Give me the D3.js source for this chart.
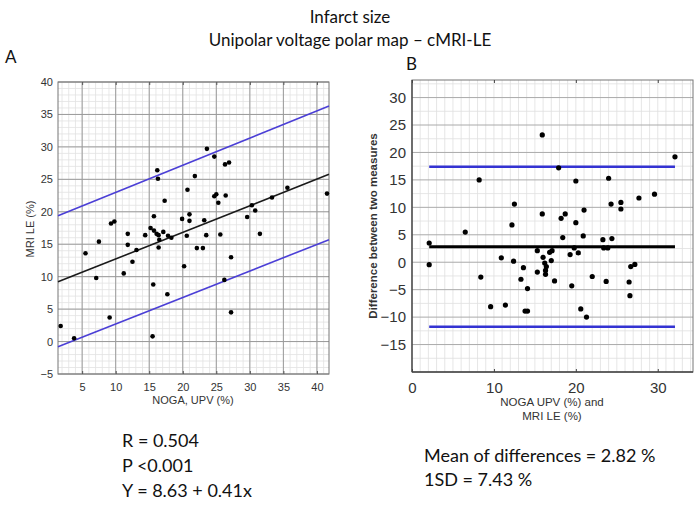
<!doctype html>
<html lang="en-US">
<head>
<meta charset="UTF-8">
<title>Infarct size</title>
<script src="https://cdn.jsdelivr.net/npm/d3@7"></script>
<style>
  body { margin: 0; background: #fff; }
  svg text { font-family: "Liberation Sans", Arial, sans-serif; }
  .cal { font-family: Lato, "Open Sans", sans-serif !important; fill: #111; }
</style>
</head>
<body>
<div id="viz"></div>

<script>
// Panel A: NOGA UPV (%) vs MRI LE (%)
var aNoga = [1.8, 3.8, 15.5, 9.1, 27.2, 17.7, 15.6, 26.2, 7.1, 11.2, 20.2, 12.5, 27.2, 5.5, 13.1,
  22.1, 23.0, 16.4, 11.8, 7.5, 16.5, 18.3, 17.8, 20.6, 14.4, 16.4, 23.5, 25.6, 11.8, 16.1,
  31.5, 17.1, 15.7, 15.2, 9.3, 9.8, 21.0, 23.2, 19.9, 29.6, 15.7, 21.0, 30.8, 30.3, 25.3,
  17.3, 33.3, 24.7, 26.4, 25.0, 41.5, 20.7, 35.6, 16.3, 21.8, 16.2, 26.3, 26.9, 24.7, 23.6];
var aMri = [2.4, 0.5, 0.8, 3.7, 4.5, 7.3, 8.8, 9.5, 9.8, 10.5, 11.6, 12.3, 13.0, 13.6, 14.1,
  14.4, 14.4, 14.5, 14.9, 15.4, 15.7, 16.0, 16.3, 16.3, 16.4, 16.4, 16.4, 16.5, 16.6, 16.6,
  16.6, 16.9, 17.1, 17.5, 18.2, 18.5, 18.6, 18.7, 18.9, 19.2, 19.3, 19.6, 20.2, 21.0, 21.4,
  21.7, 22.2, 22.4, 22.5, 22.7, 22.8, 23.4, 23.7, 25.1, 25.5, 26.4, 27.3, 27.6, 28.5, 29.7];
var regIntercept = 8.63, regSlope = 0.41;
var upperBand = [[1.4, 19.4], [41.8, 36.3]];
var lowerBand = [[1.4, -0.8], [41.8, 15.7]];
var aXTicks = [5, 10, 15, 20, 25, 30, 35, 40];
var aYTicks = [-5, 0, 5, 10, 15, 20, 25, 30, 35, 40];

// Panel B: Bland-Altman
var bMean = [2.1, 2.1, 6.5, 8.2, 8.4, 9.6, 10.9, 11.4, 12.2, 12.4, 12.5, 13.3, 13.6, 13.8, 14.1,
  14.1, 15.3, 15.3, 15.9, 15.9, 16.0, 16.2, 16.4, 16.3, 16.3, 16.8, 17.0, 17.1, 17.4, 17.9,
  18.2, 18.4, 18.7, 19.3, 19.5, 19.8, 20.0, 20.0, 20.3, 20.6, 20.9, 21.0, 21.3, 22.0, 23.3,
  23.4, 23.7, 23.9, 24.0, 24.3, 24.4, 25.5, 25.5, 26.5, 26.6, 26.7, 27.2, 27.7, 29.6, 32.1];
var bDiff = [3.5, -0.45, 5.5, 15.0, -2.7, -8.1, 0.8, -7.8, 6.8, 0.2, 10.6, -3.1, -1.0, -8.9, -8.9,
  -4.8, 2.1, -1.8, 23.2, 8.8, 0.9, -0.15, -0.8, -1.5, -2.2, 1.8, 0.3, 2.1, -3.4, 17.2,
  8.0, 4.5, 8.8, 1.4, -4.3, 2.6, 14.8, 7.2, 1.7, -8.5, 4.8, 9.5, -10.0, -2.6, 4.1,
  2.6, -3.5, 2.6, 15.3, 10.6, 4.3, 10.9, 9.7, -3.6, -6.1, -0.8, -0.4, 11.7, 12.4, 19.2];
var meanDiff = 2.82, sdDiff = 7.43;
var bXTicks = [0, 10, 20, 30];
var bYTicks = [-15, -10, -5, 0, 5, 10, 15, 20, 25, 30];

var svg = d3.select('#viz').append('svg').attr('width', 699).attr('height', 505);

// titles
svg.append('text').attr('class', 'cal').attr('x', 350).attr('y', 23).attr('text-anchor', 'middle')
  .style('font-size', '17px').text('Infarct size');
svg.append('text').attr('class', 'cal').attr('x', 350).attr('y', 46).attr('text-anchor', 'middle')
  .style('font-size', '17px').text('Unipolar voltage polar map \u2013 cMRI-LE');
svg.append('text').attr('class', 'cal').attr('x', 5).attr('y', 63).style('font-size', '17px').text('A');
svg.append('text').attr('class', 'cal').attr('x', 406).attr('y', 70).style('font-size', '17px').text('B');

// ---------- panel A ----------
var xA = d3.scaleLinear().domain([1.4, 41.8]).range([58, 329]);
var yA = d3.scaleLinear().domain([-5, 40]).range([374, 82]);
var gA = svg.append('g');

var minorX = d3.range(2, 42, 1), minorY = d3.range(-5, 41, 1);
gA.selectAll('.mnx').data(minorX).enter().append('line')
  .attr('x1', d => xA(d)).attr('x2', d => xA(d)).attr('y1', 82).attr('y2', 374)
  .attr('stroke', '#e2e2e2').attr('stroke-width', 0.8);
gA.selectAll('.mny').data(minorY).enter().append('line')
  .attr('y1', d => yA(d)).attr('y2', d => yA(d)).attr('x1', 58).attr('x2', 329)
  .attr('stroke', '#e2e2e2').attr('stroke-width', 0.8);
gA.selectAll('.mjx').data(aXTicks).enter().append('line')
  .attr('x1', d => xA(d)).attr('x2', d => xA(d)).attr('y1', 82).attr('y2', 374)
  .attr('stroke', '#9a9a9a').attr('stroke-width', 1);
gA.selectAll('.mjy').data(aYTicks).enter().append('line')
  .attr('y1', d => yA(d)).attr('y2', d => yA(d)).attr('x1', 58).attr('x2', 329)
  .attr('stroke', '#9a9a9a').attr('stroke-width', 1);
gA.append('rect').attr('x', 58).attr('y', 82).attr('width', 271).attr('height', 292)
  .attr('fill', 'none').attr('stroke', '#777').attr('stroke-width', 1);

gA.append('g').attr('transform', 'translate(0,374)')
  .call(d3.axisBottom(xA).tickValues(aXTicks).tickSize(3).tickPadding(6))
  .call(g => g.select('.domain').remove())
  .call(g => g.selectAll('line').attr('stroke', '#555').attr('transform', 'translate(0,-3)'))
  .call(g => g.selectAll('text').attr('fill', '#333').style('font-size', '11px'));
gA.append('g').attr('transform', 'translate(58,0)')
  .call(d3.axisLeft(yA).tickValues(aYTicks).tickSize(0).tickPadding(5))
  .call(g => g.select('.domain').remove())
  .call(g => g.selectAll('text').attr('fill', '#333').style('font-size', '11px'));
gA.append('g').attr('transform', 'translate(0,82)')
  .call(d3.axisBottom(xA).tickValues(aXTicks).tickSize(3).tickFormat(''))
  .call(g => g.select('.domain').remove())
  .call(g => g.selectAll('line').attr('stroke', '#555'));

gA.append('text').attr('x', 193).attr('y', 404).attr('text-anchor', 'middle')
  .attr('fill', '#333').style('font-size', '11px').text('NOGA, UPV (%)');
gA.append('text').attr('transform', 'translate(34,229) rotate(-90)').attr('text-anchor', 'middle')
  .attr('fill', '#333').style('font-size', '11px').text('MRI LE (%)');

var lineA = d3.line().x(d => xA(d[0])).y(d => yA(d[1]));
var dom = xA.domain();
gA.append('path').datum(dom.map(x => [x, regIntercept + regSlope * x])).attr('d', lineA)
  .attr('stroke', '#1a1a1a').attr('stroke-width', 1.6).attr('fill', 'none');
[upperBand, lowerBand].forEach(function (b) {
  gA.append('path').datum(b).attr('d', lineA)
    .attr('stroke', '#4b3fd6').attr('stroke-width', 1.6).attr('fill', 'none');
});
gA.selectAll('circle').data(aNoga).enter().append('circle')
  .attr('cx', d => xA(d)).attr('cy', (d, i) => yA(aMri[i])).attr('r', 2.3).attr('fill', '#000');

// ---------- panel B ----------
var xB = d3.scaleLinear().domain([0, 34.3]).range([412, 693]);
var yB = d3.scaleLinear().domain([-20, 33.2]).range([372, 80]);
var gB = svg.append('g');

gB.selectAll('.mnx').data(d3.range(1, 35, 1)).enter().append('line')
  .attr('x1', d => xB(d)).attr('x2', d => xB(d)).attr('y1', 80).attr('y2', 372)
  .attr('stroke', '#e0e0e0').attr('stroke-width', 0.8);
gB.selectAll('.mny').data(d3.range(-17.5, 33, 5)).enter().append('line')
  .attr('y1', d => yB(d)).attr('y2', d => yB(d)).attr('x1', 412).attr('x2', 693)
  .attr('stroke', '#e0e0e0').attr('stroke-width', 0.8);
gB.selectAll('.mjy').data(bYTicks).enter().append('line')
  .attr('y1', d => yB(d)).attr('y2', d => yB(d)).attr('x1', 412).attr('x2', 693)
  .attr('stroke', '#aaa').attr('stroke-width', 1);
gB.append('rect').attr('x', 412).attr('y', 80).attr('width', 281).attr('height', 292)
  .attr('fill', 'none').attr('stroke', '#777').attr('stroke-width', 1);
gB.append('line').attr('x1', 412).attr('x2', 412).attr('y1', 80).attr('y2', 372)
  .attr('stroke', '#444').attr('stroke-width', 1.3);
gB.append('line').attr('x1', 412).attr('x2', 693).attr('y1', 372).attr('y2', 372)
  .attr('stroke', '#444').attr('stroke-width', 1.3);

gB.append('g').attr('transform', 'translate(0,372)')
  .call(d3.axisBottom(xB).tickValues(bXTicks).tickSize(3).tickPadding(7))
  .call(g => g.select('.domain').remove())
  .call(g => g.selectAll('line').attr('stroke', '#444').attr('transform', 'translate(0,-3)'))
  .call(g => g.selectAll('text').attr('fill', '#333').style('font-size', '15px'));
gB.append('g').attr('transform', 'translate(0,80)')
  .call(d3.axisBottom(xB).tickValues(bXTicks).tickSize(3).tickFormat(''))
  .call(g => g.select('.domain').remove())
  .call(g => g.selectAll('line').attr('stroke', '#444'));
gB.append('g').attr('transform', 'translate(412,0)')
  .call(d3.axisLeft(yB).tickValues(bYTicks).tickSize(0).tickPadding(6))
  .call(g => g.select('.domain').remove())
  .call(g => g.selectAll('text').attr('fill', '#333').style('font-size', '15px'));

gB.append('text').attr('x', 552).attr('y', 406).attr('text-anchor', 'middle')
  .attr('fill', '#333').style('font-size', '11.5px').text('NOGA UPV (%) and');
gB.append('text').attr('x', 552).attr('y', 420).attr('text-anchor', 'middle')
  .attr('fill', '#333').style('font-size', '11.5px').text('MRI LE (%)');
gB.append('text').attr('transform', 'translate(377,226) rotate(-90)').attr('text-anchor', 'middle')
  .attr('fill', '#333').style('font-size', '11.5px').style('font-weight', 'bold')
  .text('Difference between two measures');

var bExt = d3.extent(bMean);
var limits = [meanDiff + 1.96 * sdDiff, meanDiff - 1.96 * sdDiff];
gB.selectAll('.lim').data(limits).enter().append('line')
  .attr('x1', xB(bExt[0])).attr('x2', xB(bExt[1]))
  .attr('y1', d => yB(d)).attr('y2', d => yB(d))
  .attr('stroke', '#3433d2').attr('stroke-width', 2.4);
gB.append('line').attr('x1', xB(bExt[0])).attr('x2', xB(bExt[1]))
  .attr('y1', yB(meanDiff)).attr('y2', yB(meanDiff))
  .attr('stroke', '#000').attr('stroke-width', 3);
gB.selectAll('circle').data(bMean).enter().append('circle')
  .attr('cx', d => xB(d)).attr('cy', (d, i) => yB(bDiff[i])).attr('r', 2.6).attr('fill', '#000');

// stats text
var statsA = ['R = 0.504', 'P <0.001', 'Y = 8.63 + 0.41x'];
var statsB = ['Mean of differences = 2.82 %', '1SD = 7.43 %'];
svg.selectAll('.sa').data(statsA).enter().append('text').attr('class', 'cal')
  .attr('x', 122).attr('y', (d, i) => 447 + i * 25).style('font-size', '18px').text(d => d);
svg.selectAll('.sb').data(statsB).enter().append('text').attr('class', 'cal')
  .attr('x', 424).attr('y', (d, i) => 462 + i * 24).style('font-size', '18px').text(d => d);
</script>
</body>
</html>
